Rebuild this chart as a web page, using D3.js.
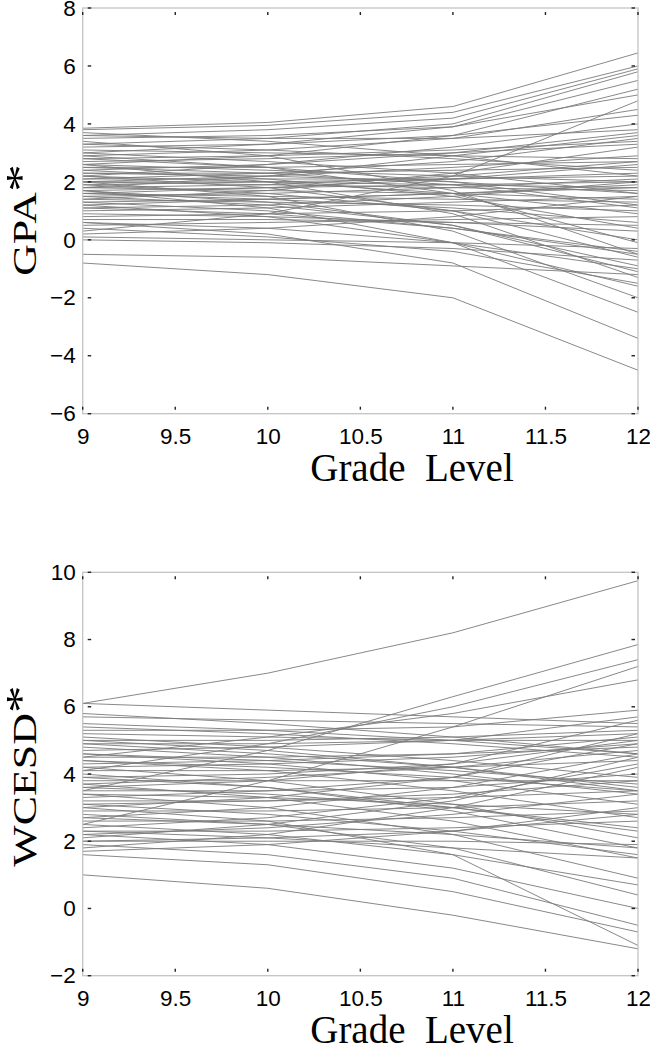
<!DOCTYPE html>
<html>
<head>
<meta charset="utf-8">
<script src="https://cdnjs.cloudflare.com/ajax/libs/d3/7.8.5/d3.min.js"></script>
<style>
  body { margin: 0; background: #fff; }
  .tick-label { font-family: "Liberation Sans", Arial, sans-serif; font-size: 22.5px; fill: #000; }
  .axis-title { font-family: "Liberation Serif", "Times New Roman", serif; fill: #000; }
</style>
</head>
<body>
<div class="canvas"></div>
<script>
const grades = [9, 10, 11, 12];
const gradeTicks = [9, 9.5, 10, 10.5, 11, 11.5, 12];
const gpaTicks = [-6, -4, -2, 0, 2, 4, 6, 8];
const wcesdTicks = [-2, 0, 2, 4, 6, 8, 10];

// GPA* per student at grades 9, 10, 11, 12
const gpaLines = [
  [3.85, 4.05, 4.6, 6.45],
  [3.8, 3.95, 4.4, 6.0],
  [3.6, 3.8, 4.2, 5.9],
  [3.3, 3.5, 4.0, 5.8],
  [3.0, 3.3, 3.9, 5.5],
  [2.6, 2.9, 3.6, 5.2],
  [3.5, 3.6, 3.9, 5.0],
  [0.3, 0.9, 2.2, 4.8],
  [2.9, 3.1, 3.5, 4.5],
  [3.2, 3.3, 3.6, 4.3],
  [2.2, 2.6, 3.2, 4.0],
  [3.6, 3.5, 3.5, 3.8],
  [1.8, 2.2, 2.9, 3.6],
  [2.8, 2.9, 3.1, 3.4],
  [3.1, 3.0, 2.9, 2.8],
  [2.0, 2.2, 2.5, 2.9],
  [2.5, 2.5, 2.6, 2.7],
  [1.6, 1.8, 2.1, 2.6],
  [2.3, 2.3, 2.4, 2.5],
  [1.9, 2.0, 2.1, 2.3],
  [2.1, 2.1, 2.1, 2.2],
  [1.5, 1.6, 1.8, 2.1],
  [1.7, 1.8, 1.9, 2.0],
  [2.6, 2.4, 2.2, 2.0],
  [1.3, 1.4, 1.6, 1.9],
  [1.2, 1.4, 1.6, 1.8],
  [2.0, 1.9, 1.8, 1.7],
  [3.0, 2.7, 2.3, 1.6],
  [1.0, 1.1, 1.3, 1.5],
  [1.8, 1.7, 1.6, 1.4],
  [2.8, 2.5, 2.0, 1.2],
  [0.8, 0.9, 1.0, 1.2],
  [1.4, 1.3, 1.2, 1.0],
  [2.2, 2.0, 1.6, 0.9],
  [0.5, 0.6, 0.7, 0.8],
  [1.6, 1.4, 1.1, 0.6],
  [2.4, 2.1, 1.5, 0.4],
  [0.9, 0.8, 0.6, 0.3],
  [1.9, 1.6, 1.0, 0.0],
  [2.9, 2.5, 1.6, -0.1],
  [1.1, 0.9, 0.4, -0.4],
  [2.2, 1.8, 1.0, -0.6],
  [0.0, -0.1, -0.3, -0.7],
  [1.5, 1.2, 0.5, -0.9],
  [3.4, 2.9, 1.7, -0.5],
  [1.7, 1.3, 0.5, -1.1],
  [0.6, 0.4, -0.1, -1.0],
  [2.6, 2.0, 0.9, -1.3],
  [1.2, 0.8, -0.1, -1.6],
  [0.4, 0.1, -0.4, -1.5],
  [2.0, 1.5, 0.3, -2.0],
  [-0.5, -0.6, -0.9, -1.2],
  [1.7, 1.1, -0.1, -2.5],
  [0.6, 0.2, -0.8, -3.4],
  [-0.8, -1.2, -2.0, -4.5],
  [2.7, 2.8, 3.0, 3.3],
  [2.4, 2.6, 3.0, 3.7],
  [1.4, 1.7, 2.3, 3.2],
  [2.0, 2.0, 1.9, 1.8],
  [1.6, 1.5, 1.4, 1.3],
  [2.3, 2.2, 2.0, 1.6],
  [1.1, 1.2, 1.5, 2.0],
  [3.3, 3.1, 2.8, 2.4],
  [0.2, 0.4, 0.8, 1.5],
  [1.8, 1.9, 2.2, 2.7],
  [2.5, 2.3, 1.9, 1.1],
  [0.7, 0.7, 0.6, 0.5],
  [3.7, 3.4, 2.9, 2.2],
  [1.3, 1.0, 0.4, -0.5],
  [2.1, 2.3, 2.7, 3.5],
  [0.1, 0.0, -0.1, -0.3]
];

// WCESD* per student at grades 9, 10, 11, 12
const wcesdLines = [
  [6.1, 7.0, 8.2, 9.75],
  [3.5, 4.7, 6.3, 7.85],
  [4.1, 4.9, 6.0, 7.4],
  [2.5, 3.8, 5.4, 7.2],
  [4.5, 5.1, 5.8, 6.8],
  [6.1, 5.9, 5.7, 5.5],
  [5.8, 5.5, 5.1, 4.6],
  [5.7, 5.6, 5.5, 5.4],
  [5.3, 5.3, 5.4, 5.9],
  [5.2, 5.1, 5.0, 5.0],
  [5.1, 4.8, 4.4, 3.9],
  [5.0, 5.0, 5.1, 5.3],
  [4.9, 4.6, 4.2, 3.6],
  [4.7, 4.8, 5.0, 5.7],
  [4.6, 4.3, 3.8, 3.1],
  [4.5, 4.5, 4.6, 4.8],
  [4.4, 4.1, 3.5, 2.7],
  [4.3, 4.4, 4.6, 5.1],
  [4.2, 3.8, 3.1, 2.1],
  [4.1, 4.1, 4.2, 4.4],
  [4.0, 3.6, 2.9, 1.8],
  [3.9, 4.0, 4.3, 5.0],
  [3.8, 3.8, 3.8, 3.8],
  [3.7, 3.3, 2.6, 1.5],
  [3.6, 3.8, 4.3, 5.6],
  [3.5, 3.5, 3.6, 4.0],
  [3.4, 3.0, 2.2, 0.9],
  [3.3, 3.5, 3.9, 5.2],
  [3.2, 3.2, 3.3, 3.5],
  [3.1, 2.8, 2.3, 1.6],
  [3.0, 3.3, 3.9, 4.9],
  [2.9, 2.9, 3.0, 3.2],
  [2.8, 2.5, 1.8, 0.4],
  [2.7, 3.0, 3.6, 4.6],
  [2.6, 2.6, 2.7, 2.9],
  [2.5, 2.2, 1.6, 0.7],
  [2.4, 2.7, 3.3, 4.3],
  [2.3, 2.3, 2.4, 2.6],
  [2.2, 1.9, 1.2, 0.0],
  [2.1, 2.5, 3.2, 4.5],
  [2.0, 2.1, 2.3, 2.8],
  [1.9, 1.6, 0.9, -0.5],
  [1.8, 2.2, 3.0, 4.2],
  [1.6, 1.3, 0.5, -0.7],
  [1.0, 0.6, -0.2, -1.2],
  [3.0, 2.6, 1.6, -1.1],
  [4.8, 4.5, 4.0, 3.4],
  [5.4, 5.2, 4.9, 4.5],
  [3.7, 3.9, 4.2, 4.7],
  [2.2, 2.4, 2.8, 3.4],
  [3.9, 3.6, 3.0, 2.3],
  [4.4, 4.2, 3.9, 3.5],
  [5.5, 5.3, 5.0, 4.6],
  [4.9, 4.9, 5.0, 5.2],
  [4.2, 4.3, 4.5, 4.9],
  [3.6, 3.4, 3.0, 2.4],
  [3.1, 3.2, 3.4, 3.8],
  [2.7, 2.5, 2.2, 1.8],
  [2.0, 2.0, 2.0, 1.9],
  [1.7, 1.9, 2.3, 3.0],
  [4.6, 4.4, 4.1, 3.7],
  [3.4, 3.3, 3.1, 2.8],
  [5.0, 4.7, 4.2, 3.5],
  [2.3, 2.1, 1.8, 1.5]
];

const dims = { w: 650, h: 1050, left: 82.7, right: 638 };

const panels = [
  { lines: gpaLines, domain: [-6, 8], ticks: gpaTicks, label: "GPA", top: 8, bottom: 413.7, labelY: 220 },
  { lines: wcesdLines, domain: [-2, 10], ticks: wcesdTicks, label: "WCESD", top: 572.3, bottom: 975.7, labelY: 776 }
];

const svg = d3
  .select(".canvas")
  .append("svg")
  .attr("width", dims.w)
  .attr("height", dims.h);

const x = d3.scaleLinear().domain([9, 12]).range([dims.left, dims.right]);

const drawPanel = p => {
  const y = d3.scaleLinear().domain(p.domain).range([p.bottom, p.top]);
  const g = svg.append("g");

  const line = d3
    .line()
    .x((d, i) => x(grades[i]))
    .y(d => y(d));

  g.selectAll("path.traj")
    .data(p.lines)
    .enter()
    .append("path")
    .attr("class", "traj")
    .attr("d", line)
    .attr("fill", "none")
    .attr("stroke", "#7a7a7a")
    .attr("stroke-width", 0.9);

  // frame
  g.append("rect")
    .attr("x", dims.left)
    .attr("y", p.top)
    .attr("width", dims.right - dims.left)
    .attr("height", p.bottom - p.top)
    .attr("fill", "none")
    .attr("stroke", "#c4c4c4")
    .attr("stroke-width", 1.3);

  // inner tick dashes
  const tk = g.append("g").attr("stroke", "#222").attr("stroke-width", 1.4);
  p.ticks.forEach(t => {
    tk.append("line").attr("x1", dims.left + 5).attr("x2", dims.left + 8.5).attr("y1", y(t)).attr("y2", y(t));
    tk.append("line").attr("x1", dims.right - 6.5).attr("x2", dims.right - 3).attr("y1", y(t)).attr("y2", y(t));
  });
  gradeTicks.forEach(t => {
    tk.append("line").attr("x1", x(t)).attr("x2", x(t)).attr("y1", p.top + 4).attr("y2", p.top + 7);
    tk.append("line").attr("x1", x(t)).attr("x2", x(t)).attr("y1", p.bottom - 7).attr("y2", p.bottom - 4);
  });

  // tick labels via axes
  const yAxis = g
    .append("g")
    .attr("transform", `translate(${dims.left}, 0)`)
    .call(d3.axisLeft(y).tickValues(p.ticks).tickSize(0).tickPadding(7).tickFormat(d3.format("d")));
  const xAxis = g
    .append("g")
    .attr("transform", `translate(0, ${p.bottom})`)
    .call(d3.axisBottom(x).tickValues(gradeTicks).tickSize(0).tickPadding(14).tickFormat(d => d));
  [yAxis, xAxis].forEach(a => {
    a.select(".domain").remove();
    a.attr("font-size", null).attr("font-family", null);
    a.selectAll("text").attr("class", "tick-label");
  });

  // x title
  g.append("text")
    .attr("class", "axis-title")
    .attr("x", 412)
    .attr("y", p.bottom + 67)
    .attr("text-anchor", "middle")
    .attr("font-size", 39)
    .style("white-space", "pre")
    .text("Grade  Level");

  // y title
  const yt = g
    .append("text")
    .attr("class", "axis-title")
    .attr("transform", `translate(36, ${p.labelY}) rotate(-90) scale(1.33, 1)`)
    .attr("text-anchor", "middle")
    .attr("font-size", 33);
  yt.append("tspan").text(p.label);
  yt.append("tspan").attr("dy", -1).attr("font-size", 42).text("*");
};

panels.forEach(drawPanel);
</script>
</body>
</html>
